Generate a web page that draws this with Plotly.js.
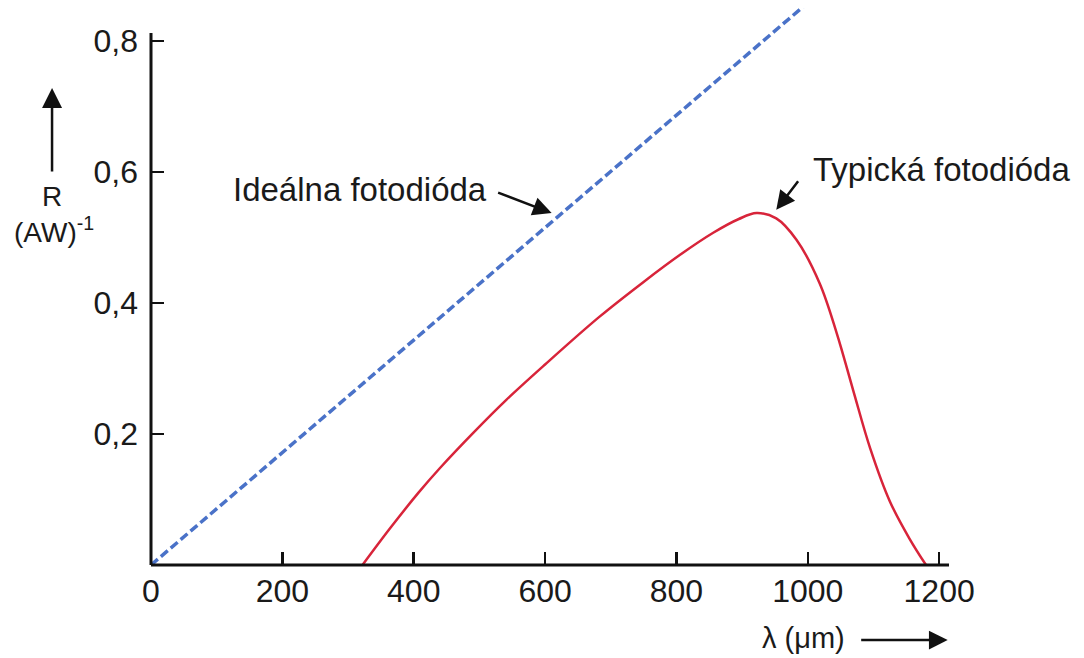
<!DOCTYPE html>
<html>
<head>
<meta charset="utf-8">
<script src="https://cdn.plot.ly/plotly-3.0.1.min.js"></script>
<style>html,body{margin:0;padding:0;background:#fff;}#chart{width:1084px;height:658px;}</style>
</head>
<body>
<div id="chart"></div>
<script>
// Ideal photodiode (straight line through origin)
const idealX = [0, 1000];
const idealY = [0, 0.858];
// Typical photodiode response
const typicalX = [322, 364, 407, 440, 491, 541, 600, 683, 750, 805, 856, 895, 922, 952, 983, 1018, 1044, 1069, 1095, 1125, 1155, 1180];
const typicalY = [0, 0.056, 0.11, 0.148, 0.202, 0.252, 0.306, 0.379, 0.432, 0.473, 0.507, 0.528, 0.537, 0.529, 0.496, 0.43, 0.354, 0.267, 0.178, 0.097, 0.04, 0];
const xTickVals = [0, 200, 400, 600, 800, 1000, 1200];
const xTickText = ['0', '200', '400', '600', '800', '1000', '1200'];
const yTickVals = [0.2, 0.4, 0.6, 0.8];
const yTickText = ['0,2', '0,4', '0,6', '0,8'];

const FONT = 'Liberation Sans, Arial, sans-serif';

const traces = [
  {x: idealX, y: idealY, mode: 'lines', line: {color: '#4a72c8', width: 3.5, dash: '9px,4px'}, hoverinfo: 'skip'},
  {x: typicalX, y: typicalY, mode: 'lines', line: {color: '#d8243a', width: 2.5, shape: 'spline', smoothing: 1}, hoverinfo: 'skip'}
];

const layout = {
  width: 1084, height: 658,
  margin: {l: 151, r: 135, t: 8, b: 93},
  paper_bgcolor: '#fff', plot_bgcolor: '#fff',
  showlegend: false,
  font: {family: FONT, color: '#1a1a1a', size: 32},
  xaxis: {
    range: [0, 1215], showgrid: false, zeroline: false, showline: false,
    tickvals: xTickVals, ticktext: xTickText,
    ticks: 'inside', ticklen: 13, tickwidth: 2.5, tickcolor: '#111',
    tickfont: {family: FONT, size: 32, color: '#1a1a1a'},
    ticklabelstandoff: 4
  },
  yaxis: {
    range: [0, 0.85], showgrid: false, zeroline: false, showline: false,
    tickvals: yTickVals, ticktext: yTickText,
    ticks: 'inside', ticklen: 13, tickwidth: 2.5, tickcolor: '#111',
    tickfont: {family: FONT, size: 32, color: '#1a1a1a'},
    ticklabelstandoff: 12
  },
  shapes: [
    {type: 'line', xref: 'paper', yref: 'paper', x0: 0, x1: 0, y0: 0, y1: 0.955, line: {color: '#111', width: 3}},
    {type: 'line', xref: 'paper', yref: 'paper', x0: 0, x1: 1.0, y0: 0, y1: 0, line: {color: '#111', width: 3}}
  ],
  annotations: [
    {xref: 'x', yref: 'y', x: 610, y: 0.537, text: '', showarrow: true, axref: 'pixel', ayref: 'pixel', ax: -55, ay: -21, arrowhead: 2, arrowsize: 1.5, arrowwidth: 2.5, arrowcolor: '#111'},
    {xref: 'x', yref: 'y', x: 318, y: 0.573, xanchor: 'center', yanchor: 'middle', text: 'Ideálna fotodióda', showarrow: false, font: {family: FONT, size: 33, color: '#1a1a1a'}},
    {xref: 'x', yref: 'y', x: 952, y: 0.542, text: '', showarrow: true, ax: 23, ay: -30, arrowhead: 2, arrowsize: 1.5, arrowwidth: 2.5, arrowcolor: '#111'},
    {xref: 'x', yref: 'y', x: 1203, y: 0.603, xanchor: 'center', yanchor: 'middle', text: 'Typická fotodióda', showarrow: false, font: {family: FONT, size: 33, color: '#1a1a1a'}},
    {xref: 'paper', yref: 'y', x: -0.124, y: 0.728, text: '', showarrow: true, ax: 0, ay: 85, arrowhead: 2, arrowsize: 1.6, arrowwidth: 2.5, arrowcolor: '#111'},
    {xref: 'paper', yref: 'y', x: -0.124, y: 0.562, xanchor: 'center', yanchor: 'middle', text: 'R', showarrow: false, font: {family: FONT, size: 28, color: '#1a1a1a'}},
    {xref: 'paper', yref: 'y', x: -0.1216, y: 0.511, xanchor: 'center', yanchor: 'middle', text: '(AW)<sup>-1</sup>', showarrow: false, font: {family: FONT, size: 28, color: '#1a1a1a'}},
    {xref: 'x', yref: 'paper', x: 993, y: -0.131, xanchor: 'center', yanchor: 'middle', text: 'λ (μm)', showarrow: false, font: {family: FONT, size: 29, color: '#1a1a1a'}},
    {xref: 'x', yref: 'paper', x: 1213, y: -0.1347, text: '', showarrow: true, ax: -88, ay: 0, arrowhead: 2, arrowsize: 1.5, arrowwidth: 2.5, arrowcolor: '#111'}
  ]
};

Plotly.newPlot('chart', traces, layout, {staticPlot: true, displayModeBar: false});
</script>
</body>
</html>
